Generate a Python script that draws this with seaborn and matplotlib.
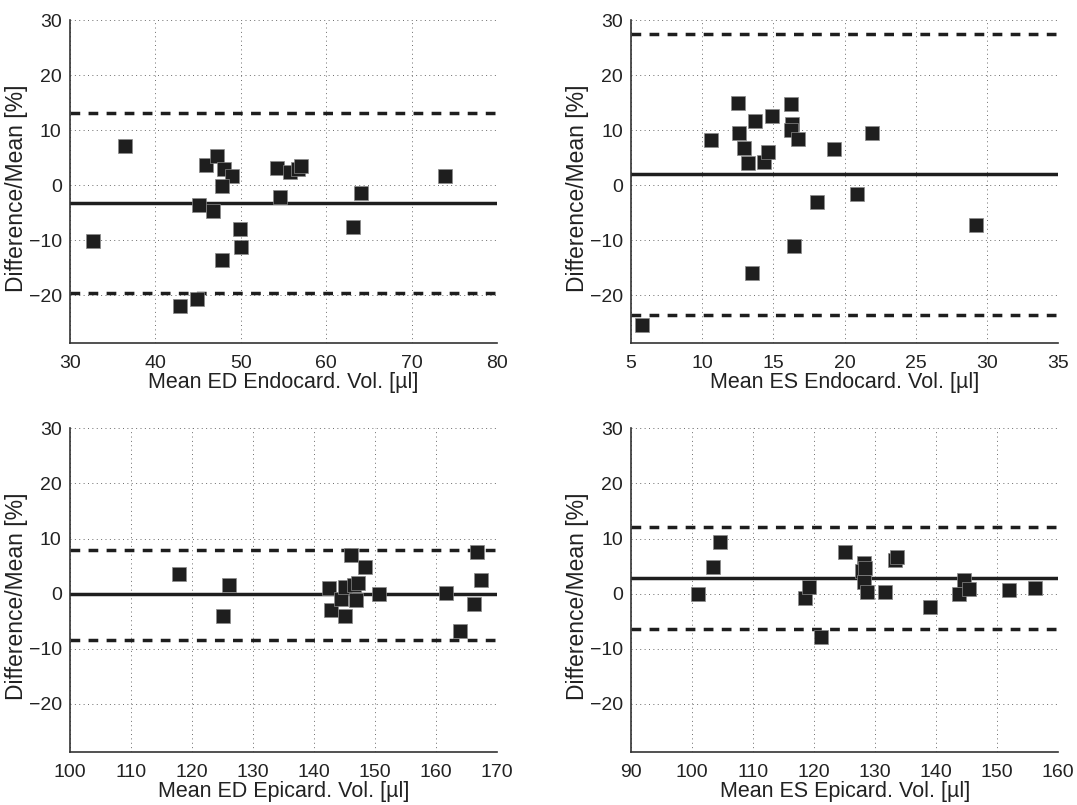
import numpy as np
import pandas as pd
import matplotlib
matplotlib.use("Agg")
import matplotlib.pyplot as plt
import seaborn as sns

sns.set_theme(style="white")
plt.rcParams["font.family"] = ["Liberation Sans", "DejaVu Sans"]

# ED endocardial volume
ed_endo_mean = [32.7, 36.45, 45.9, 47.2, 48.05, 49.0, 47.8, 45.1, 46.7, 49.9, 50.0,
                47.85, 44.9, 42.9, 54.2, 55.8, 56.75, 57.0, 54.6, 64.1, 63.1, 73.9]
ed_endo_diff = [-10.1, 7.15, 3.6, 5.3, 3.0, 1.7, -0.1, -3.7, -4.7, -7.9, -11.3,
                -13.6, -20.8, -21.9, 3.15, 2.4, 2.85, 3.4, -2.2, -1.5, -7.6, 1.7]
ed_endo_limits = [-3.3, 13.1, -19.7]

# ES endocardial volume
es_endo_mean = [5.75, 10.6, 12.5, 12.6, 12.95, 13.2, 13.7, 13.5, 14.35, 14.65, 14.9,
                16.2, 16.3, 16.25, 16.7, 16.45, 18.05, 19.25, 20.9, 21.95, 29.2]
es_endo_diff = [-25.5, 8.2, 15.0, 9.5, 6.8, 4.1, 11.6, -15.9, 4.2, 6.0, 12.5,
                14.8, 11.2, 10.0, 8.4, -11.0, -3.1, 6.6, -1.6, 9.4, -7.3]
es_endo_limits = [2.0, 27.5, -23.6]

# ED epicardial volume
ed_epi_mean = [117.9, 125.0, 126.1, 142.4, 142.8, 144.5, 145.0, 145.0, 146.1, 146.5,
               147.2, 146.9, 148.4, 150.7, 161.7, 164.0, 166.2, 166.7, 167.4]
ed_epi_diff = [3.5, -4.1, 1.6, 1.0, -2.9, -1.0, 1.2, -4.1, 7.0, 1.5,
               1.9, -1.1, 4.9, 0.0, 0.1, -6.8, -1.8, 7.5, 2.4]
ed_epi_limits = [-0.1, 7.9, -8.4]

# ES epicardial volume
es_epi_mean = [100.9, 103.4, 104.5, 118.5, 119.1, 121.2, 125.0, 128.2, 127.8, 128.4,
               128.1, 128.6, 131.6, 133.2, 133.6, 139.0, 143.7, 144.6, 145.4, 151.9, 156.2]
es_epi_diff = [0.0, 4.9, 9.3, -0.7, 1.2, -7.8, 7.6, 5.6, 4.1, 4.6,
               2.2, 0.3, 0.3, 6.1, 6.7, -2.4, -0.1, 2.4, 0.9, 0.6, 1.1]
es_epi_limits = [2.8, 12.0, -6.4]

xlabels = ["Mean ED Endocard. Vol. [\u00b5l]", "Mean ES Endocard. Vol. [\u00b5l]",
           "Mean ED Epicard. Vol. [\u00b5l]", "Mean ES Epicard. Vol. [\u00b5l]"]
xranges = [(30, 80, 10), (5, 35, 5), (100, 170, 10), (90, 160, 10)]
yticks = [-20, -10, 0, 10, 20, 30]

panels = [
    (ed_endo_mean, ed_endo_diff, ed_endo_limits),
    (es_endo_mean, es_endo_diff, es_endo_limits),
    (ed_epi_mean, ed_epi_diff, ed_epi_limits),
    (es_epi_mean, es_epi_diff, es_epi_limits),
]

fig = plt.figure(figsize=(10.77, 8.05), dpi=100)
boxes = [
    [0.065, 0.574, 0.3965, 0.401],
    [0.586, 0.574, 0.3965, 0.401],
    [0.065, 0.066, 0.3965, 0.402],
    [0.586, 0.066, 0.3965, 0.402],
]

ink = "#1e1e1e"
dash = (0, (2.8, 2.4))
for i, ((mx, dy, lims), box) in enumerate(zip(panels, boxes)):
    ax = fig.add_axes(box)
    df = pd.DataFrame({"mean": mx, "diff": dy})
    x0, x1, step = xranges[i]
    ax.set_xlim(x0, x1)
    ax.set_ylim(-28.7, 30)
    ax.set_xticks(np.arange(x0, x1 + step / 2, step))
    ax.set_yticks(yticks)
    ax.grid(True, linestyle=(0, (1, 3.5)), color="#6a6a6a", linewidth=0.7)
    ax.set_axisbelow(True)

    mean_d, upper, lower = lims
    ax.axhline(mean_d, color=ink, linewidth=2.5, zorder=2)
    ax.axhline(upper, color=ink, linewidth=2.5, linestyle=dash, zorder=2)
    ax.axhline(lower, color=ink, linewidth=2.5, linestyle=dash, zorder=2)

    sns.scatterplot(data=df, x="mean", y="diff", marker="s", s=88, color=ink,
                    edgecolor="#8a8a8a", linewidth=0.5, ax=ax, zorder=3)

    for side in ("top", "right"):
        ax.spines[side].set_visible(False)
    for side in ("left", "bottom"):
        ax.spines[side].set_color("#333333")
        ax.spines[side].set_linewidth(1.2)
    ax.tick_params(axis="both", direction="in", length=4, width=1, color="#333333",
                   labelsize=14, labelcolor="#222222")
    ax.tick_params(axis="x", pad=9)
    ax.tick_params(axis="y", pad=6)
    ax.set_xlabel(xlabels[i], fontsize=15.5, color="#222222", labelpad=0)
    ax.set_ylabel("Difference/Mean [%]", fontsize=16.5, color="#222222")
    ax.yaxis.set_label_coords(-0.098, 0.48)

fig.savefig("out.png", dpi=100, facecolor="white")
